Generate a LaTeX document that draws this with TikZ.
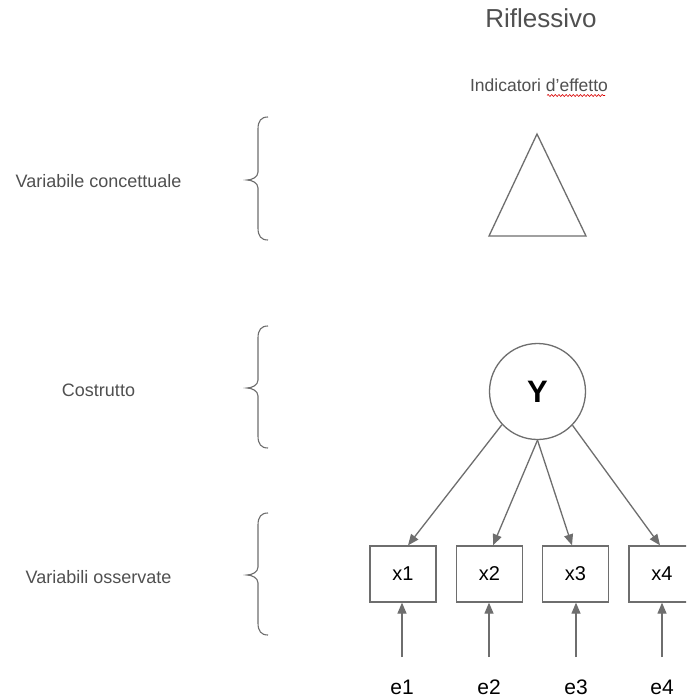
\documentclass[tikz,border=0pt]{standalone}
\usepackage{fontspec}
\setmainfont{Liberation Sans}
\usetikzlibrary{arrows.meta,decorations.pathmorphing}
\definecolor{linegray}{HTML}{6E6E6E}
\definecolor{textgray}{HTML}{505050}
\tikzset{
  lbl/.style={inner sep=0pt, anchor=base, text=textgray, font=\fontsize{18}{20}\selectfont},
  obs/.style={draw=linegray, line width=1.3pt, minimum width=66pt, minimum height=56pt, inner sep=0pt, font=\fontsize{20}{22}\selectfont},
  lat/.style={draw=linegray, line width=1.3pt, circle, minimum size=96pt, inner sep=0pt, font=\bfseries\fontsize{31}{33}\selectfont},
  err/.style={inner sep=0pt, anchor=base, font=\fontsize{21}{23}\selectfont},
  arr/.style={draw=linegray, line width=1.3pt, -{Triangle[length=11pt,width=9pt]}, color=linegray},
  brace/.style={draw=linegray, line width=1.1pt},
  outline/.style={draw=linegray, line width=1.3pt, line join=miter}
}
% curly brace opening to the right: top y, tip y, bottom y
\newcommand{\leftcurl}[3]{%
  \draw[brace] (268,#1) .. controls (261,#1) and (258,#1+4) .. (258,#1+12)
    -- (258,#2-8) .. controls (258,#2-3) and (252,#2) .. (247,#2)
    .. controls (252,#2) and (258,#2+3) .. (258,#2+8)
    -- (258,#3-12) .. controls (258,#3-4) and (261,#3) .. (268,#3);}
\begin{document}
\begin{tikzpicture}[x=1pt, y=-1pt]
  \useasboundingbox (0,0) rectangle (686,698);
  \clip (0,0) rectangle (686,698);
  \fill[white] (0,0) rectangle (686,698);

  % headings
  \node[lbl, font=\fontsize{26}{28}\selectfont] (title) at (541,28) {Riflessivo};
  \node[lbl, font=\fontsize{17.5}{20}\selectfont] (ind) at (539,91.5) {Indicatori d'effetto};
  \draw[red!85!black, line width=0.6pt, decorate,
        decoration={snake, amplitude=1pt, segment length=3.6pt}] (547,95.5) -- (605,95.5);

  % row labels and braces
  \node[lbl] (lconc) at (98.5,187) {Variabile concettuale};
  \node[lbl] (lcost) at (98.5,396) {Costrutto};
  \node[lbl] (losse) at (98.5,583) {Variabili osservate};
  \leftcurl{117}{180}{240}
  \leftcurl{326}{388}{448}
  \leftcurl{513}{575}{635}

  % conceptual variable
  \coordinate (ta) at (537,134);
  \coordinate (tl) at (489,236);
  \coordinate (tr) at (586,236);
  \draw[outline] (ta) -- (tl) -- (tr) -- cycle;

  % construct
  \node[lat] (Y) at (537.5,391.5) {Y};

  % observed variables
  \node[obs] (x1) at (403,574) {x1};
  \node[obs] (x2) at (489.5,574) {x2};
  \node[obs] (x3) at (575.5,574) {x3};
  \node[obs] (x4) at (662,574) {x4};

  \draw[arr] (Y.223) -- ([xshift=5pt]x1.north);
  \draw[arr] (Y.270) -- ([xshift=3.5pt]x2.north);
  \draw[arr] (Y.270) -- ([xshift=-3.5pt]x3.north);
  \draw[arr] (Y.316) -- ([xshift=-2pt]x4.north);

  % error terms
  \node[err] (e1) at (402,694) {e1};
  \node[err] (e2) at (489,694) {e2};
  \node[err] (e3) at (576,694) {e3};
  \node[err] (e4) at (662,694) {e4};
  \coordinate (s1) at (402,657);
  \coordinate (s2) at (489,657);
  \coordinate (s3) at (576,657);
  \coordinate (s4) at (662,657);
  \draw[arr] (s1) -- (x1.south -| s1);
  \draw[arr] (s2) -- (x2.south -| s2);
  \draw[arr] (s3) -- (x3.south -| s3);
  \draw[arr] (s4) -- (x4.south -| s4);
\end{tikzpicture}
\end{document}
